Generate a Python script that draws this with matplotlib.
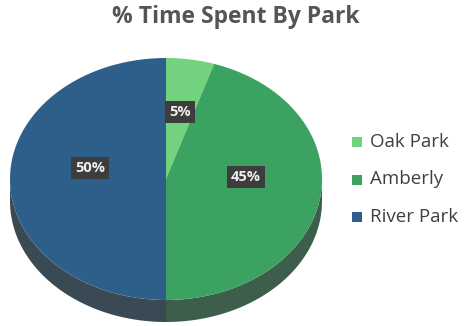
import numpy as np
import matplotlib.pyplot as plt
from matplotlib.patches import Polygon

parks = ["Oak Park", "Amberly", "River Park"]
shares = [5, 45, 50]
top_colors = ["#72d27e", "#3ba262", "#2e5f8b"]
side_colors = ["#4f7d58", "#3d5e4a", "#3a4a55"]

# pie geometry in pixel units (y grows downwards)
cx, cy = 166, 179
rx, ry = 156, 121
depth = 22


def arc(t1, t2, dy=0, n=80):
    t = np.radians(np.linspace(t1, t2, n))
    return np.column_stack([cx + rx * np.cos(t), cy - ry * np.sin(t) + dy])


fig = plt.figure(figsize=(4.65, 3.26), dpi=100)
ax = fig.add_axes([0, 0, 1, 1])
ax.set_xlim(0, 465)
ax.set_ylim(326, 0)
ax.axis("off")

# wedges run clockwise from twelve o'clock
bounds = 90 - 360 * np.concatenate([[0], np.cumsum(shares)]) / sum(shares)

# side walls, only the front half (180..360 deg) shows
for i in range(len(shares)):
    lo, hi = bounds[i + 1] % 360, bounds[i] % 360
    if hi <= lo:
        hi += 360
    s, e = max(lo, 180), min(hi, 360)
    if e <= s:
        continue
    top = arc(s, e)
    bot = arc(e, s, dy=depth)
    ax.add_patch(Polygon(np.vstack([top, bot]), closed=True,
                         facecolor=side_colors[i], edgecolor="none"))

# top face
for i in range(len(shares)):
    pts = np.vstack([[cx, cy], arc(bounds[i + 1], bounds[i])])
    ax.add_patch(Polygon(pts, closed=True, facecolor=top_colors[i],
                         edgecolor="none"))

# percentage labels
label_pos = [(180, 112), (246, 177), (90, 168)]
for (x, y), v in zip(label_pos, shares):
    ax.text(x, y, f"{v}%", ha="center", va="center", fontsize=10.5,
            fontweight="bold", color="#eeeeee", family="Open Sans",
            bbox=dict(boxstyle="square,pad=0.3", facecolor="#3d3d3d",
                      edgecolor="none"))

# legend
for i, name in enumerate(parks):
    y = 142 + i * 37.5
    ax.add_patch(plt.Rectangle((352, y - 5), 10, 10, facecolor=top_colors[i],
                               edgecolor="none"))
    ax.text(370, y, name, ha="left", va="center", fontsize=13.5,
            color="#404040", family="Open Sans")

ax.text(236, 17, "% Time Spent By Park", ha="center", va="center",
        fontsize=16.5, fontweight="bold", color="#555555", family="Open Sans")

fig.savefig("out.png", dpi=100, facecolor="white")
